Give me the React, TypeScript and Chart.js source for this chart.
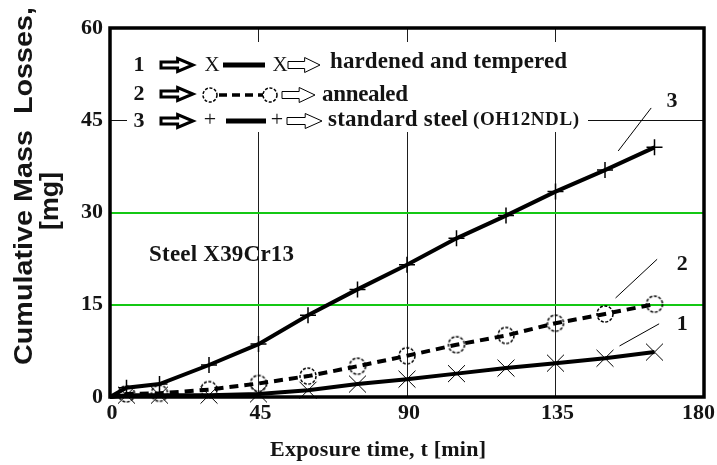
import { useEffect, useRef } from 'react';
import { Chart, registerables } from 'chart.js';
Chart.register(...registerables);

// exposure time [min]
const times = [0, 5, 15, 30, 45, 60, 75, 90, 105, 120, 135, 150, 165];
// cumulative mass losses [mg]
const hardened = [0, 0.3, 0.3, 0.3, 0.5, 1.1, 2.1, 2.9, 3.8, 4.7, 5.5, 6.3, 7.3];
const annealed = [0, 0.5, 0.6, 1.2, 2.2, 3.4, 5.0, 6.7, 8.5, 10.0, 12.0, 13.5, 15.1];
const standard = [0, 1.5, 2.1, 5.2, 8.6, 13.3, 17.5, 21.5, 25.8, 29.5, 33.4, 36.9, 40.6];
const xTicks = [0, 45, 90, 135, 180];
const yTicks = [0, 15, 30, 45, 60];
const seriesNumbers = ['1', '2', '3'];
const seriesNames = ['hardened and tempered', 'annealed', 'standard steel'];
const standardCode = '(OH12NDL)';
const yTitle = ['Cumulative Mass  Losses,', '[mg]'];
const xTitle = 'Exposure time, t [min]';
const steelName = 'Steel X39Cr13';

// curve call-outs in data units: label position and leader line ends
const callouts = [
  { label: '3', lx: 170.3, ly: 48.0, x1: 164.0, y1: 47.0, x2: 154.0, y2: 40.0 },
  { label: '2', lx: 173.4, ly: 21.5, x1: 165.8, y1: 22.4, x2: 153.2, y2: 16.1 },
  { label: '1', lx: 173.4, ly: 11.9, x1: 166.4, y1: 11.9, x2: 154.4, y2: 8.3 },
];

const SERIF = '"Liberation Serif", "Times New Roman", serif';
const SANS = '"Liberation Sans", Arial, sans-serif';
const INK = '#141414';

function drawFit(ctx: CanvasRenderingContext2D, text: string, cx: number, cy: number, width: number, font: string, align: 'center' | 'left' = 'center') {
  ctx.font = font;
  (ctx as any).letterSpacing = '0px';
  const w = ctx.measureText(text).width;
  const n = [...text].length;
  const ls = n > 1 ? (width - w) / (n - 1) : 0;
  (ctx as any).letterSpacing = ls + 'px';
  ctx.textAlign = 'left';
  ctx.textBaseline = 'middle';
  const x0 = align === 'center' ? cx - width / 2 : cx;
  ctx.fillText(text, x0, cy);
  (ctx as any).letterSpacing = '0px';
}

function drawScaled(ctx: CanvasRenderingContext2D, text: string, cx: number, cy: number, width: number, font: string) {
  ctx.font = font;
  const w = ctx.measureText(text).width;
  ctx.save();
  ctx.translate(cx, cy);
  ctx.scale(width / w, 1);
  ctx.textAlign = 'center';
  ctx.textBaseline = 'middle';
  ctx.fillText(text, 0, 0);
  ctx.restore();
}

function arrow(ctx: CanvasRenderingContext2D, x0: number, x1: number, y: number, shaft: number, head: number, lw: number) {
  const xs = x0 + (x1 - x0) * 0.52;
  ctx.beginPath();
  ctx.moveTo(x0, y - shaft);
  ctx.lineTo(xs, y - shaft);
  ctx.lineTo(xs, y - head);
  ctx.lineTo(x1, y);
  ctx.lineTo(xs, y + head);
  ctx.lineTo(xs, y + shaft);
  ctx.lineTo(x0, y + shaft);
  ctx.closePath();
  ctx.fillStyle = '#fff';
  ctx.fill();
  ctx.lineWidth = lw;
  ctx.strokeStyle = '#000';
  ctx.lineJoin = 'miter';
  ctx.stroke();
}

function dashedCircle(ctx: CanvasRenderingContext2D, x: number, y: number, r: number) {
  ctx.save();
  ctx.beginPath();
  ctx.setLineDash([3, 1.6]);
  ctx.lineWidth = 1.5;
  ctx.strokeStyle = '#000';
  ctx.arc(x, y, r, 0, Math.PI * 2);
  ctx.stroke();
  ctx.restore();
}

function makeCircleStyle(): HTMLCanvasElement {
  const c = document.createElement('canvas');
  c.width = 20;
  c.height = 20;
  const g = c.getContext('2d')!;
  dashedCircle(g, 10, 10, 8);
  return c;
}

const decorPlugin = {
  id: 'decor',
  beforeDatasetsDraw(chart: any) {
    const { ctx, chartArea: a } = chart;
    ctx.save();
    // white block behind legend
    ctx.fillStyle = '#fff';
    ctx.fillRect(a.left + 17, a.top + 14, 461, 90);
    // legend rows
    const rows = [a.top + 37, a.top + 66, a.top + 93];
    rows.forEach((y, i) => {
      ctx.fillStyle = INK;
      ctx.font = `bold 22px ${SERIF}`;
      ctx.textAlign = 'center';
      ctx.textBaseline = 'middle';
      ctx.fillText(seriesNumbers[i], a.left + 29, y);
      arrow(ctx, a.left + 51, a.left + 83, y, 3, 6.5, 3);
      if (i === 0) {
        ctx.fillStyle = INK;
        ctx.font = `21px ${SERIF}`;
        ctx.fillText('X', a.left + 102, y);
        ctx.fillText('X', a.left + 170, y);
        ctx.fillStyle = '#000';
        ctx.fillRect(a.left + 113, y - 2.5, 42, 5);
      } else if (i === 1) {
        dashedCircle(ctx, a.left + 100, y + 1, 7);
        dashedCircle(ctx, a.left + 160, y + 1, 7);
        ctx.save();
        ctx.setLineDash([8, 5]);
        ctx.lineWidth = 3.5;
        ctx.strokeStyle = '#000';
        ctx.beginPath();
        ctx.moveTo(a.left + 109, y + 1);
        ctx.lineTo(a.left + 153, y + 1);
        ctx.stroke();
        ctx.restore();
      } else {
        ctx.fillStyle = INK;
        ctx.font = `22px ${SERIF}`;
        ctx.fillText('+', a.left + 100, y - 1);
        ctx.fillText('+', a.left + 167, y - 1);
        ctx.fillStyle = '#000';
        ctx.fillRect(a.left + 116, y - 2.5, 40, 5);
      }
    });
    arrow(ctx, a.left + 178, a.left + 210, rows[0], 3.5, 7.5, 1);
    arrow(ctx, a.left + 172, a.left + 205, rows[1] + 1, 3.5, 7.5, 1);
    arrow(ctx, a.left + 177, a.left + 212, rows[2], 3.5, 7.5, 1);
    ctx.fillStyle = INK;
    drawFit(ctx, seriesNames[0], a.left + 220, rows[0] - 3, 237, `bold 23px ${SERIF}`, 'left');
    drawFit(ctx, seriesNames[1], a.left + 212, rows[1] + 1, 86, `bold 23px ${SERIF}`, 'left');
    drawFit(ctx, seriesNames[2], a.left + 218, rows[2] - 1, 140, `bold 23px ${SERIF}`, 'left');
    drawFit(ctx, standardCode, a.left + 363, rows[2] - 1, 106, `bold 19px ${SERIF}`, 'left');
    // plot frame
    ctx.strokeStyle = '#000';
    ctx.lineWidth = 3.5;
    ctx.strokeRect(a.left, a.top, a.right - a.left, a.bottom - a.top);
    ctx.restore();
  },
  afterDraw(chart: any) {
    const { ctx, chartArea: a, scales } = chart;
    const xs = scales.x;
    const ys = scales.y;
    ctx.save();
    ctx.fillStyle = INK;
    // x tick labels
    ctx.font = `bold 22px ${SERIF}`;
    ctx.textAlign = 'center';
    ctx.textBaseline = 'middle';
    xTicks.forEach((v) => {
      const w = ctx.measureText(String(v)).width;
      let px = xs.getPixelForValue(v);
      if (px + w / 2 > chart.width - 4) px = chart.width - 4 - w / 2;
      ctx.fillText(String(v), px + 2, a.bottom + 16);
    });
    // axis titles
    drawFit(ctx, xTitle, (a.left + a.right) / 2 - 29, a.bottom + 53, 216, `bold 22px ${SERIF}`);
    ctx.save();
    ctx.translate(25, 186);
    ctx.rotate(-Math.PI / 2);
    drawScaled(ctx, yTitle[0], 0, 0, 358, `bold 25px ${SANS}`);
    ctx.restore();
    ctx.save();
    ctx.translate(51, 201);
    ctx.rotate(-Math.PI / 2);
    drawScaled(ctx, yTitle[1], 0, 0, 58, `bold 25px ${SANS}`);
    ctx.restore();
    // material name
    drawFit(ctx, steelName, xs.getPixelForValue(33.8), ys.getPixelForValue(23.1), 145, `bold 23px ${SERIF}`);
    // call-outs
    callouts.forEach((c) => {
      ctx.strokeStyle = '#000';
      ctx.lineWidth = 1;
      ctx.beginPath();
      ctx.moveTo(xs.getPixelForValue(c.x1), ys.getPixelForValue(c.y1));
      ctx.lineTo(xs.getPixelForValue(c.x2), ys.getPixelForValue(c.y2));
      ctx.stroke();
      ctx.fillStyle = INK;
      ctx.font = `bold 22px ${SERIF}`;
      ctx.textAlign = 'center';
      ctx.textBaseline = 'middle';
      ctx.fillText(c.label, xs.getPixelForValue(c.lx), ys.getPixelForValue(c.ly));
    });
    ctx.restore();
  },
};

export default function App() {
  const ref = useRef<HTMLCanvasElement | null>(null);
  useEffect(() => {
    if (!ref.current) return;
    const circle = makeCircleStyle();
    const chart = new Chart(ref.current, {
      type: 'line',
      data: {
        datasets: [
          {
            label: seriesNames[0],
            data: times.map((t, i) => ({ x: t, y: hardened[i] })),
            borderColor: '#000',
            borderWidth: 4,
            pointStyle: 'crossRot',
            pointRadius: (c: any) => (c.dataIndex === 0 ? 0 : 12),
            pointBorderWidth: 1,
            pointBorderColor: '#000',
            pointBackgroundColor: '#000',
            tension: 0,
            clip: false as any,
          },
          {
            label: seriesNames[1],
            data: times.map((t, i) => ({ x: t, y: annealed[i] })),
            borderColor: '#000',
            borderWidth: 4,
            borderDash: [9, 6],
            pointStyle: (c: any) => (c.dataIndex === 0 ? false : circle) as any,
            pointRadius: 8,
            tension: 0,
            clip: false as any,
          },
          {
            label: seriesNames[2],
            data: times.map((t, i) => ({ x: t, y: standard[i] })),
            borderColor: '#000',
            borderWidth: 4,
            pointStyle: 'cross',
            pointRadius: (c: any) => (c.dataIndex === 0 ? 0 : 8),
            pointBorderWidth: 1.5,
            pointBorderColor: '#000',
            tension: 0,
            clip: false as any,
          },
        ],
      },
      options: {
        responsive: false,
        animation: false,
        layout: { padding: { top: 28, right: 10, left: 0, bottom: 0 } },
        plugins: { legend: { display: false }, tooltip: { enabled: false } },
        scales: {
          x: {
            type: 'linear',
            min: 0,
            max: 180,
            afterBuildTicks: (s: any) => { s.ticks = xTicks.map((v) => ({ value: v })); },
            afterFit: (s: any) => { s.height = 68; s.paddingLeft = 0; s.paddingRight = 0; },
            ticks: { display: false },
            border: { display: false },
            grid: {
              drawTicks: false,
              color: (c: any) => (c.tick && (c.tick.value === 0 || c.tick.value === 180) ? 'rgba(0,0,0,0)' : '#1e1e1e'),
              lineWidth: 1,
            },
          },
          y: {
            min: 0,
            max: 60,
            afterBuildTicks: (s: any) => { s.ticks = yTicks.map((v) => ({ value: v })); },
            afterFit: (s: any) => { s.width = 110; s.paddingTop = 0; s.paddingBottom = 0; },
            border: { display: false },
            ticks: {
              padding: 7,
              color: INK,
              font: { family: SERIF, size: 22, weight: 'bold' },
            },
            grid: {
              drawTicks: false,
              color: (c: any) => {
                const v = c.tick && c.tick.value;
                if (v === 15 || v === 30) return '#14c814';
                if (v === 45) return '#111';
                return 'rgba(0,0,0,0)';
              },
              lineWidth: (c: any) => {
                const v = c.tick && c.tick.value;
                return v === 15 || v === 30 ? 2 : 1;
              },
            },
          },
        },
      } as any,
      plugins: [decorPlugin],
    });
    return () => chart.destroy();
  }, []);
  return (
    <div style={{ position: 'fixed', left: 0, top: 0, width: 717, height: 465, background: '#fff' }}>
      <canvas ref={ref} width={717} height={465} style={{ display: 'block' }} />
    </div>
  );
}
